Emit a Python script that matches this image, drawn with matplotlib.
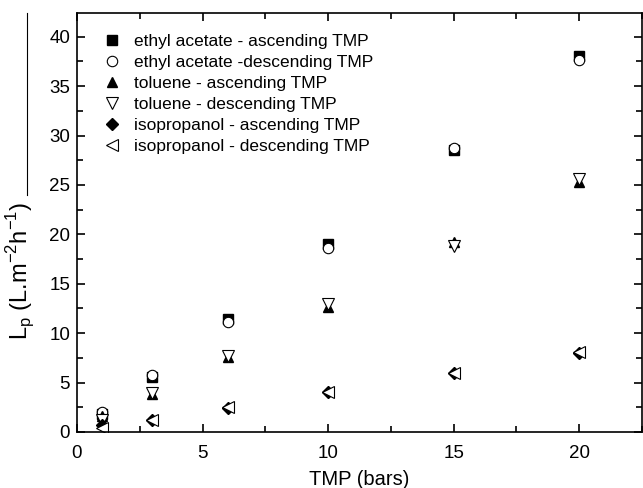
import numpy as np
import matplotlib
matplotlib.use("Agg")
import matplotlib.pyplot as plt
from matplotlib.ticker import MultipleLocator
from matplotlib.lines import Line2D

plt.rcParams['font.family'] = ['Liberation Sans', 'DejaVu Sans']

# ---------------- data ----------------
tmp = np.array([1, 3, 6, 10, 15, 20])

ea_asc = np.array([1.8, 5.6, 11.4, 19.0, 28.5, 38.0])
ea_desc = np.array([2.0, 5.8, 11.1, 18.6, 28.7, 37.6])
tol_asc = np.array([1.6, 3.8, 7.6, 12.6, 19.2, 25.3])
tol_desc = np.array([1.2, 3.9, 7.7, 13.0, 18.8, 25.6])
iso_asc = np.array([0.7, 1.2, 2.4, 4.0, 6.0, 8.0])
iso_desc = np.array([0.4, 1.2, 2.5, 4.0, 6.0, 8.1])

labels = ["ethyl acetate - ascending TMP",
          "ethyl acetate -descending TMP",
          "toluene - ascending TMP",
          "toluene - descending TMP",
          "isopropanol - ascending TMP",
          "isopropanol - descending TMP"]

# ---------------- plot ----------------
fig = plt.figure(figsize=(6.43, 4.88), dpi=100)
ax = fig.add_axes([77/643, 1-432/488, 565/643, 419/488])

ms = 7
ax.plot(tmp, ea_asc, 's', color='k', ms=ms, label=labels[0])
ax.plot(tmp, ea_desc, 'o', mfc='white', mec='k', ms=ms+0.5, mew=0.8, label=labels[1])
ax.plot(tmp, tol_asc, '^', color='k', ms=ms, label=labels[2])
ax.plot(tmp, tol_desc, 'v', mfc='white', mec='k', ms=ms+1, mew=0.8, label=labels[3])
ax.plot(tmp, iso_asc, 'D', color='k', ms=ms-1, label=labels[4])
ax.plot(tmp, iso_desc, '<', mfc='white', mec='k', ms=ms+1, mew=0.8, label=labels[5])

ax.set_xlim(0, 22.5)
ax.set_ylim(0, 42.4)
ax.xaxis.set_major_locator(MultipleLocator(5))
ax.xaxis.set_minor_locator(MultipleLocator(2.5))
ax.yaxis.set_major_locator(MultipleLocator(5))
ax.yaxis.set_minor_locator(MultipleLocator(2.5))
ax.tick_params(which='both', direction='in', top=True, right=True,
               labelsize=13.5, width=1.2)
ax.tick_params(which='major', length=6, pad=5)
ax.tick_params(axis='x', which='major', pad=9)
ax.tick_params(which='minor', length=4)
for s in ax.spines.values():
    s.set_linewidth(1.2)

ax.set_xlabel("TMP (bars)", fontsize=14.5, labelpad=6)
ax.set_ylabel(r"L$_\mathregular{p}$ (L.m$^\mathregular{-2}$h$^\mathregular{-1}$)",
              fontsize=17)
ax.yaxis.set_label_coords(-0.07, 0.385)

ax.legend(loc='upper left', bbox_to_anchor=(0.032, 0.962), frameon=False,
          fontsize=12.5, handletextpad=0.6, labelspacing=0.33,
          borderaxespad=0.0, handlelength=1.35, borderpad=0.3)

# stray vertical line next to the y label in the original
fig.add_artist(Line2D([27/643, 27/643], [1-13/488, 1-195/488],
                      color='k', lw=0.8, transform=fig.transFigure))

plt.savefig("out.png", dpi=100)
